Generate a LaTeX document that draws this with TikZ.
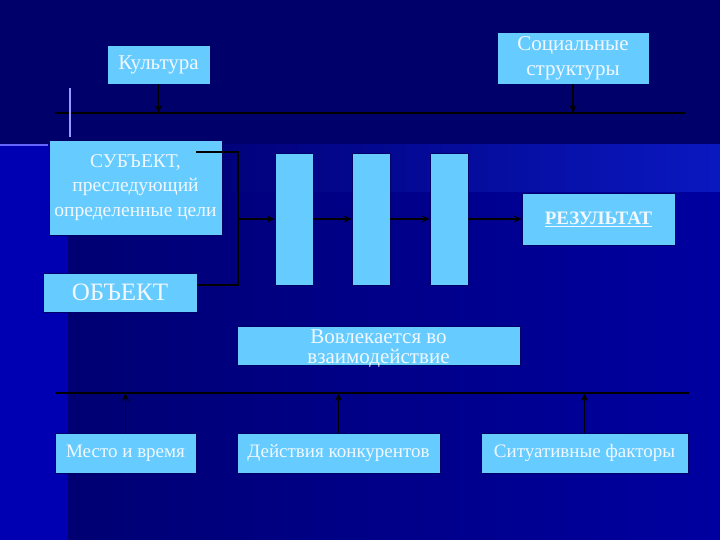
\documentclass[tikz,border=0pt]{standalone}
\usepackage{fontspec}
\setmainfont{Liberation Serif}
\usetikzlibrary{arrows.meta}
\definecolor{bgtop}{HTML}{00006A}
\definecolor{bgmid}{HTML}{00006E}
\definecolor{bgright}{HTML}{0000A0}
\definecolor{bgband}{HTML}{0A18C0}
\definecolor{bgstrip}{HTML}{0000B2}
\definecolor{boxblue}{HTML}{66CCFF}
\definecolor{boxtext}{HTML}{F2F8FF}
\tikzset{
  box/.style={fill=boxblue, draw=black!60!blue, line width=0.6pt, text=boxtext,
    align=center, inner sep=0pt, font=\fontsize{21}{25}\selectfont},
  low/.style={box, minimum height=40pt, font=\fontsize{19}{22}\selectfont},
  conn/.style={black, line width=1.4pt},
  arr/.style={conn, -{Stealth[length=8pt,width=7pt]}},
}
\begin{document}
\begin{tikzpicture}[x=1pt, y=-1pt]
  \useasboundingbox (0,0) rectangle (720,540);

  %% фон
  \fill[bgtop] (0,0) rectangle (720,145);
  \shade[left color=bgmid, right color=bgright] (0,145) rectangle (720,540);
  \shade[left color=bgmid!80!bgright, right color=bgband] (200,145) rectangle (720,192);
  \fill[bgstrip] (0,145) rectangle (68,540);

  %% верхние блоки
  \node[box, minimum width=103pt, minimum height=39pt] (kult) at (158.5,64.5) {Культура};
  \node[box, minimum width=152pt, minimum height=52pt] (soc) at (573,58) {Социальные\\структуры};

  %% субъект и объект
  \node[box, minimum width=173pt, minimum height=95pt, font=\fontsize{19.5}{24.5}\selectfont]
    (subj) at (135.5,187.5) {СУБЪЕКТ,\\преследующий\\определенные цели};
  \node[box, minimum width=154pt, minimum height=39pt, font=\fontsize{25}{28}\selectfont]
    (obj) at (120,292.5) {ОБЪЕКТ};

  %% этапы
  \foreach \name/\xpos in {r1/294, r2/371, r3/449}
    \node[box, minimum width=38pt, minimum height=132pt] (\name) at (\xpos,219) {};
  \node[box, minimum width=153pt, minimum height=52pt, font=\fontsize{19}{22}\selectfont\bfseries]
    (res) at (598.5,219) {\underline{РЕЗУЛЬТАТ}};

  %% взаимодействие (текст чуть ниже центра)
  \node[box, minimum width=283pt, minimum height=39pt,
    label={[text=boxtext, align=center, inner sep=0pt, yshift=-3pt,
      font=\fontsize{21}{20}\selectfont]center:Вовлекается во\\взаимодействие}]
    (invol) at (378.5,345.5) {};

  %% нижние блоки
  \node[low, minimum width=141pt] (place) at (125.5,453) {Место и время};
  \node[low, minimum width=203pt] (comp) at (338.5,453) {Действия конкурентов};
  \node[low, minimum width=207pt] (sit) at (584.5,453) {Ситуативные факторы};

  %% шины
  \coordinate (topl) at (55,113);
  \coordinate (topr) at (685,113);
  \coordinate (botl) at (55,393);
  \coordinate (botr) at (689,393);
  \draw[conn] (topl) -- (topr);
  \draw[conn] (botl) -- (botr);
  \draw[arr] (kult.south) -- (kult.south |- topl);
  \draw[arr] (soc.south) -- (soc.south |- topl);
  \foreach \name in {place, comp, sit}
    \draw[arr] (\name.north) -- (\name.north |- botl);

  %% блики шаблона
  \draw[blue!40!white, line width=1.5pt] (70,88) -- (70,137);
  \draw[blue!60!white, line width=2pt] (0,145) -- (48,145);

  %% связи субъекта и объекта
  \coordinate (sj) at (196,152);
  \coordinate (jt) at (238,152);
  \coordinate (jb) at (238,285);
  \coordinate (jm) at (238,219);
  \draw[conn] (sj) -- (jt) -- (jb) -- (obj.east |- jb);
  \draw[arr] (jm) -- (r1.west);
  \draw[arr] (r1.east) -- (r2.west);
  \draw[arr] (r2.east) -- (r3.west);
  \draw[arr] (r3.east) -- (res.west);
\end{tikzpicture}
\end{document}
